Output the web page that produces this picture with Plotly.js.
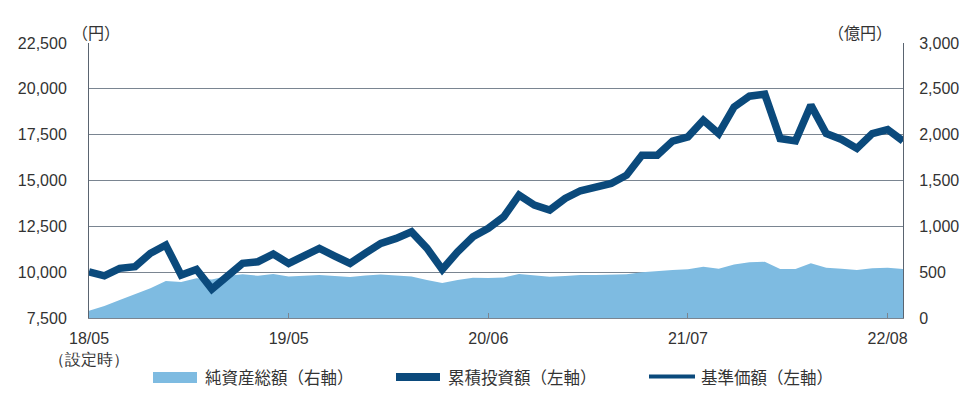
<!DOCTYPE html>
<html>
<head>
<meta charset="utf-8">
<script src="https://cdn.plot.ly/plotly-3.0.1.min.js"></script>
<style>
html,body{margin:0;padding:0;background:#fff;}
#chart{width:967px;height:396px;}
</style>
</head>
<body>
<div id="chart"></div>
<script>
// ---- data ----
var periods = [];
for (var k = 0; k < 54; k++) periods.push(k);

var tickPos = [0, 13, 26, 39, 52];
var tickLabels = ['18/05<br>（設定時）', '19/05', '20/06', '21/07', '22/08'];

// 累積投資額（円, 左軸）
var cumulativeValue = [
  10020, 9800, 10210, 10300, 11030, 11480, 9840, 10150, 9080, 9800,
  10480, 10570, 10990, 10480, 10880, 11300, 10880, 10480, 11040, 11570,
  11840, 12200, 11310, 10150, 11110, 11930, 12390, 13020, 14200, 13660,
  13390, 14020, 14440, 14600, 14840, 15290, 16380, 16380, 17150, 17380,
  18290, 17560, 19010, 19600, 19710, 17290, 17160, 19110, 17560, 17240,
  16750, 17560, 17780, 17160
];

// 基準価額（円, 左軸）
var navPrice = [
  10020, 9800, 10210, 10300, 11030, 11480, 9840, 10150, 9080, 9800,
  10480, 10570, 10990, 10480, 10880, 11300, 10880, 10480, 11040, 11570,
  11840, 12200, 11310, 10150, 11110, 11930, 12390, 13020, 14200, 13660,
  13390, 14020, 14440, 14600, 14840, 15290, 16380, 16380, 17150, 17380,
  18290, 17560, 19010, 19600, 19710, 17290, 17160, 19110, 17560, 17240,
  16750, 17560, 17780, 17160
];

// 純資産総額（億円, 右軸）
var netAssets = [
  80, 131, 196, 256, 324, 403, 392, 433, 420, 458,
  476, 461, 479, 454, 465, 469, 458, 447, 463, 474,
  463, 454, 414, 381, 414, 439, 436, 443, 479, 463,
  450, 458, 469, 469, 469, 476, 498, 512, 523, 531,
  559, 537, 585, 607, 613, 534, 534, 596, 548, 537,
  523, 542, 548, 534
];

var seriesNames = ['純資産総額（右軸）', '累積投資額（左軸）', '基準価額（左軸）'];

// ---- style ----
var areaColor = '#7ebbe1';
var lineColor = '#0b4a7c';
var gridColor = '#7a8591';
var frameColor = '#5a6470';
var textColor = '#333333';
var numFont = 'Liberation Sans, Arial, sans-serif';
var jpFont = 'Noto Sans CJK JP, sans-serif';

// plot area in pixels
var L = 89, R = 903, T = 43, B = 318;
function px(x) { return (x - L) / (R - L); }
function py(y) { return (B - y) / (B - T); }

var traces = [
  {
    x: periods, y: netAssets, type: 'scatter', mode: 'lines',
    name: seriesNames[0], fill: 'tozeroy', fillcolor: areaColor,
    line: {color: areaColor, width: 0}, yaxis: 'y', showlegend: false,
    hoverinfo: 'y'
  },
  {
    x: periods, y: cumulativeValue, type: 'scatter', mode: 'lines',
    name: seriesNames[1], line: {color: lineColor, width: 7.5, shape: 'linear'},
    yaxis: 'y2', showlegend: false
  },
  {
    x: periods, y: navPrice, type: 'scatter', mode: 'lines',
    name: seriesNames[2], line: {color: lineColor, width: 2},
    yaxis: 'y2', showlegend: false
  }
];

var layout = {
  width: 967, height: 396,
  margin: {l: L, r: 967 - R, t: T, b: 396 - B, pad: 0},
  paper_bgcolor: '#ffffff', plot_bgcolor: '#ffffff',
  showlegend: false,
  xaxis: {
    range: [0, 53], tickvals: tickPos, ticktext: tickLabels,
    showgrid: false, zeroline: false,
    showline: true, linecolor: gridColor, linewidth: 1,
    ticks: 'inside', ticklen: 5, tickcolor: gridColor, tickwidth: 1,
    tickfont: {family: numFont, size: 16, color: textColor},
    ticklabelstandoff: 6
  },
  yaxis: {
    side: 'right', range: [0, 3000], tickvals: [0, 500, 1000, 1500, 2000, 2500, 3000],
    tickformat: ',d', showgrid: true, gridcolor: gridColor, gridwidth: 1,
    zeroline: false, showline: true, linecolor: frameColor, linewidth: 1,
    ticks: '', tickfont: {family: numFont, size: 16, color: textColor},
    ticklabelstandoff: 12
  },
  yaxis2: {
    overlaying: 'y', side: 'left', range: [7500, 22500],
    tickvals: [7500, 10000, 12500, 15000, 17500, 20000, 22500],
    tickformat: ',d', showgrid: false, zeroline: false,
    showline: true, linecolor: frameColor, linewidth: 1,
    ticks: '', tickfont: {family: numFont, size: 16, color: textColor},
    ticklabelstandoff: 18
  },
  annotations: [
    {xref: 'paper', yref: 'paper', x: px(96), y: py(32), text: '（円）', showarrow: false,
     xanchor: 'center', yanchor: 'middle', font: {family: jpFont, size: 16, color: textColor}},
    {xref: 'paper', yref: 'paper', x: px(860), y: py(32), text: '（億円）', showarrow: false,
     xanchor: 'center', yanchor: 'middle', font: {family: jpFont, size: 16, color: textColor}},
    {xref: 'paper', yref: 'paper', x: px(203), y: py(377), text: seriesNames[0], showarrow: false,
     xanchor: 'left', yanchor: 'middle', font: {family: jpFont, size: 16.5, color: textColor}},
    {xref: 'paper', yref: 'paper', x: px(446), y: py(377), text: seriesNames[1], showarrow: false,
     xanchor: 'left', yanchor: 'middle', font: {family: jpFont, size: 16.5, color: textColor}},
    {xref: 'paper', yref: 'paper', x: px(699), y: py(377), text: seriesNames[2], showarrow: false,
     xanchor: 'left', yanchor: 'middle', font: {family: jpFont, size: 16.5, color: textColor}}
  ],
  shapes: [
    {type: 'rect', xref: 'paper', yref: 'paper', x0: px(153), x1: px(197), y0: py(383), y1: py(372),
     fillcolor: areaColor, line: {width: 0}},
    {type: 'line', xref: 'paper', yref: 'paper', x0: px(396), x1: px(440), y0: py(377), y1: py(377),
     line: {color: lineColor, width: 8}},
    {type: 'line', xref: 'paper', yref: 'paper', x0: px(649), x1: px(695), y0: py(376.5), y1: py(376.5),
     line: {color: lineColor, width: 4}}
  ]
};

Plotly.newPlot('chart', traces, layout, {displayModeBar: false, staticPlot: true});
</script>
</body>
</html>
